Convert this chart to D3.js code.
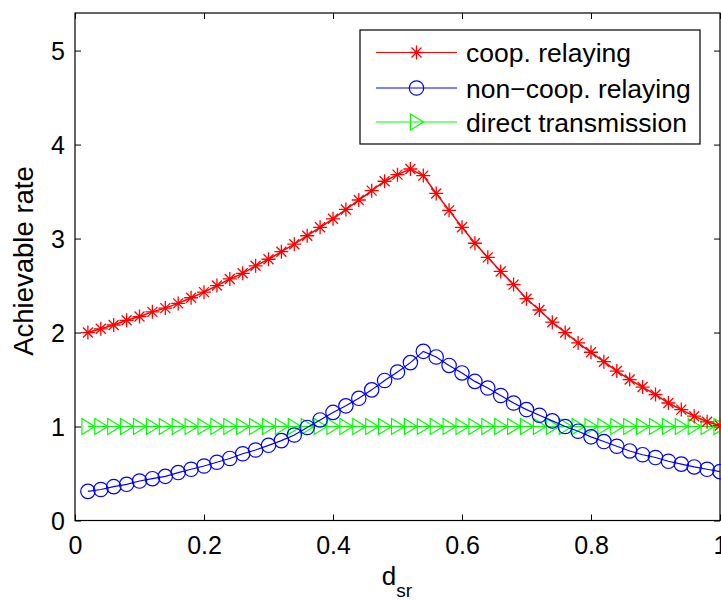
<!DOCTYPE html>
<html>
<head>
<meta charset="utf-8">
<script src="https://cdn.jsdelivr.net/npm/d3@7"></script>
<style>
  html, body { margin: 0; padding: 0; background: #fff; }
  svg { display: block; }
  text { font-family: "Liberation Sans", Arial, Helvetica, sans-serif; fill: #000; }
</style>
</head>
<body>
<svg id="chart" width="721" height="600"></svg>
<script>
// Source-relay distance d_sr, sampled every 0.02
const dsr = [0.02,0.04,0.06,0.08,0.10,0.12,0.14,0.16,0.18,0.20,
             0.22,0.24,0.26,0.28,0.30,0.32,0.34,0.36,0.38,0.40,
             0.42,0.44,0.46,0.48,0.50,0.52,0.54,0.56,0.58,0.60,
             0.62,0.64,0.66,0.68,0.70,0.72,0.74,0.76,0.78,0.80,
             0.82,0.84,0.86,0.88,0.90,0.92,0.94,0.96,0.98,1.00];

const coopRate = [2.00,2.04,2.08,2.13,2.17,2.22,2.26,2.31,2.37,2.43,
                  2.50,2.57,2.63,2.71,2.78,2.86,2.94,3.03,3.12,3.21,
                  3.31,3.41,3.51,3.61,3.68,3.74,3.67,3.48,3.30,3.12,
                  2.95,2.80,2.65,2.51,2.36,2.24,2.11,2.00,1.89,1.79,
                  1.69,1.59,1.50,1.42,1.34,1.25,1.18,1.11,1.05,1.01];

const nonCoopRate = [0.31,0.33,0.36,0.385,0.42,0.445,0.47,0.51,0.545,0.58,
                     0.62,0.66,0.71,0.75,0.80,0.85,0.91,0.99,1.07,1.15,
                     1.22,1.30,1.39,1.49,1.58,1.68,1.80,1.74,1.65,1.57,
                     1.48,1.41,1.33,1.25,1.18,1.12,1.06,1.00,0.95,0.89,
                     0.84,0.79,0.74,0.70,0.67,0.63,0.60,0.57,0.545,0.52];

const directRate = [1,1,1,1,1,1,1,1,1,1,
                    1,1,1,1,1,1,1,1,1,1,
                    1,1,1,1,1,1,1,1,1,1,
                    1,1,1,1,1,1,1,1,1,1,
                    1,1,1,1,1,1,1,1,1,1];

const xTicks = [0, 0.2, 0.4, 0.6, 0.8, 1];
const xTickLabels = ["0", "0.2", "0.4", "0.6", "0.8", "1"];
const yTicks = [0, 1, 2, 3, 4, 5];
const yTickLabels = ["0", "1", "2", "3", "4", "5"];

const seriesNames = ["coop. relaying", "non\u2212coop. relaying", "direct transmission"];
const seriesColors = ["#ff0000", "#0000ff", "#00ff00"];
const seriesMarkers = ["star", "circle", "triangle"];

const svg = d3.select("#chart");
const W = 721, H = 600;
const plotLeft = 75, plotRight = 720, plotTop = 13, plotBottom = 520.5;

const x = d3.scaleLinear().domain([0, 1]).range([plotLeft, plotRight]);
const y = d3.scaleLinear().domain([0, 5.4]).range([plotBottom, plotTop]);

svg.append("rect").attr("width", W).attr("height", H).attr("fill", "#fff");

const FS = 25;        // tick labels
const FS_LEG = 26.5;  // legend entries
const FS_LAB = 27.5;  // y axis title

// axes with inward ticks, mirrored on top and right
const tickLen = 6;
function styleAxis(g) {
  g.select(".domain").remove();
  g.selectAll(".tick line").attr("stroke", "#000").attr("stroke-width", 1);
}
const gx = svg.append("g").attr("transform", `translate(0,${plotBottom})`)
  .call(d3.axisBottom(x).tickValues(xTicks).tickFormat((d, i) => xTickLabels[i])
    .tickSizeInner(-tickLen).tickSizeOuter(0));
styleAxis(gx);
gx.selectAll(".tick text").attr("y", 33).attr("dy", 0)
  .style("font-size", FS + "px").style("font-family", "'Liberation Sans', Arial, sans-serif");

const gxt = svg.append("g").attr("transform", `translate(0,${plotTop})`)
  .call(d3.axisTop(x).tickValues(xTicks).tickFormat("").tickSizeInner(-tickLen).tickSizeOuter(0));
styleAxis(gxt);

const gy = svg.append("g").attr("transform", `translate(${plotLeft},0)`)
  .call(d3.axisLeft(y).tickValues(yTicks).tickFormat((d, i) => yTickLabels[i])
    .tickSizeInner(-tickLen).tickSizeOuter(0));
styleAxis(gy);
gy.selectAll(".tick text").attr("x", -10).attr("dy", "0.36em")
  .style("font-size", FS + "px").style("font-family", "'Liberation Sans', Arial, sans-serif");

const gyr = svg.append("g").attr("transform", `translate(${plotRight},0)`)
  .call(d3.axisRight(y).tickValues(yTicks).tickFormat("").tickSizeInner(-tickLen).tickSizeOuter(0));
styleAxis(gyr);

// plot frame
svg.append("rect")
  .attr("x", plotLeft).attr("y", plotTop)
  .attr("width", plotRight - plotLeft).attr("height", plotBottom - plotTop)
  .attr("fill", "none").attr("stroke", "#000").attr("stroke-width", 1.2);

// axis labels
svg.append("text")
  .attr("transform", `translate(33,261) rotate(-90)`)
  .attr("text-anchor", "middle")
  .style("font-size", FS_LAB + "px")
  .text("Achievable rate");

const xl = svg.append("text")
  .attr("x", 397).attr("y", 585)
  .attr("text-anchor", "middle")
  .style("font-size", "26px");
xl.append("tspan").text("d");
xl.append("tspan").attr("dy", 12).style("font-size", "19px").text("sr");

// marker drawing
function drawMarker(g, type, color) {
  if (type === "star") {
    const r = 7, d = 5;
    const p = `M${-r},0L${r},0M0,${-r}L0,${r}M${-d},${-d}L${d},${d}M${-d},${d}L${d},${-d}`;
    g.append("path").attr("d", p).attr("stroke", color).attr("stroke-width", 1.3).attr("fill", "none");
  } else if (type === "circle") {
    g.append("circle").attr("r", 7.2).attr("stroke", color).attr("stroke-width", 1.2).attr("fill", "none");
  } else {
    g.append("path").attr("d", "M-6,-8L7,0L-6,8Z")
      .attr("stroke", color).attr("stroke-width", 1.2).attr("fill", "none");
  }
}

const seriesValues = [coopRate, nonCoopRate, directRate];
const line = d3.line().x(d => x(d[0])).y(d => y(d[1]));

// draw green first so red and blue sit on top
const order = [2, 1, 0];
const plot = svg.append("g");
order.forEach(k => {
  const pts = dsr.map((d, i) => [d, seriesValues[k][i]]);
  plot.append("path").datum(pts).attr("d", line)
    .attr("fill", "none").attr("stroke", seriesColors[k]).attr("stroke-width", k === 0 ? 1.5 : 1.2);
  pts.forEach(p => {
    const g = plot.append("g").attr("transform", `translate(${x(p[0])},${y(p[1])})`);
    drawMarker(g, seriesMarkers[k], seriesColors[k]);
  });
});

// legend
const lg = svg.append("g");
lg.append("rect").attr("x", 360).attr("y", 30).attr("width", 340).attr("height", 114)
  .attr("fill", "#fff").attr("stroke", "#000").attr("stroke-width", 1.2);
const rowY = [52.5, 88, 122];
seriesNames.forEach((name, k) => {
  const yy = rowY[k];
  lg.append("line").attr("x1", 376).attr("x2", 457).attr("y1", yy).attr("y2", yy)
    .attr("stroke", seriesColors[k]).attr("stroke-width", 1.2);
  const g = lg.append("g").attr("transform", `translate(416.5,${yy})`);
  drawMarker(g, seriesMarkers[k], seriesColors[k]);
  lg.append("text").attr("x", 466).attr("y", yy + 9.5)
    .style("font-size", FS_LEG + "px").text(name);
});
</script>
</body>
</html>
